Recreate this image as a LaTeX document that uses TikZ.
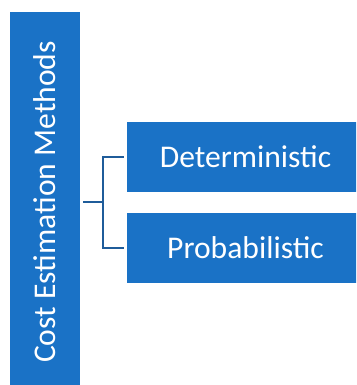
\documentclass[tikz,border=0pt]{standalone}
\usepackage{fontspec}
\setmainfont{Carlito}
\begin{document}
\begin{tikzpicture}[x=1pt, y=-1pt,
  boxfill/.style={fill=methodblue, text=white,
    inner sep=0pt, font=\fontsize{31.6}{38}\selectfont},
  conn/.style={draw=linkblue, line width=2.5pt}]
  \definecolor{methodblue}{RGB}{26,114,198}
  \definecolor{linkblue}{RGB}{31,92,154}
  \useasboundingbox (0,0) rectangle (356,385);
  \clip (0,0) rectangle (356,385);
  % root category, set vertically
  \node[boxfill, minimum width=70pt, minimum height=380pt] (root) at (45,202)
    {\rotatebox{90}{Cost Estimation Methods}};
  % the two kinds of method
  \node[boxfill, minimum width=237pt, minimum height=70pt] (det) at (245.5,157) {Deterministic};
  \node[boxfill, minimum width=237pt, minimum height=70pt] (prob) at (245.5,248) {Probabilistic};
  % bracket joining the root to both kinds
  \coordinate (fork) at (103,202);
  \draw[conn, shorten <=3pt] (root.east) -- (fork);
  \draw[conn, shorten >=3pt] (fork) |- (det.west);
  \draw[conn, shorten >=3pt] (fork) |- (prob.west);
\end{tikzpicture}
\end{document}
